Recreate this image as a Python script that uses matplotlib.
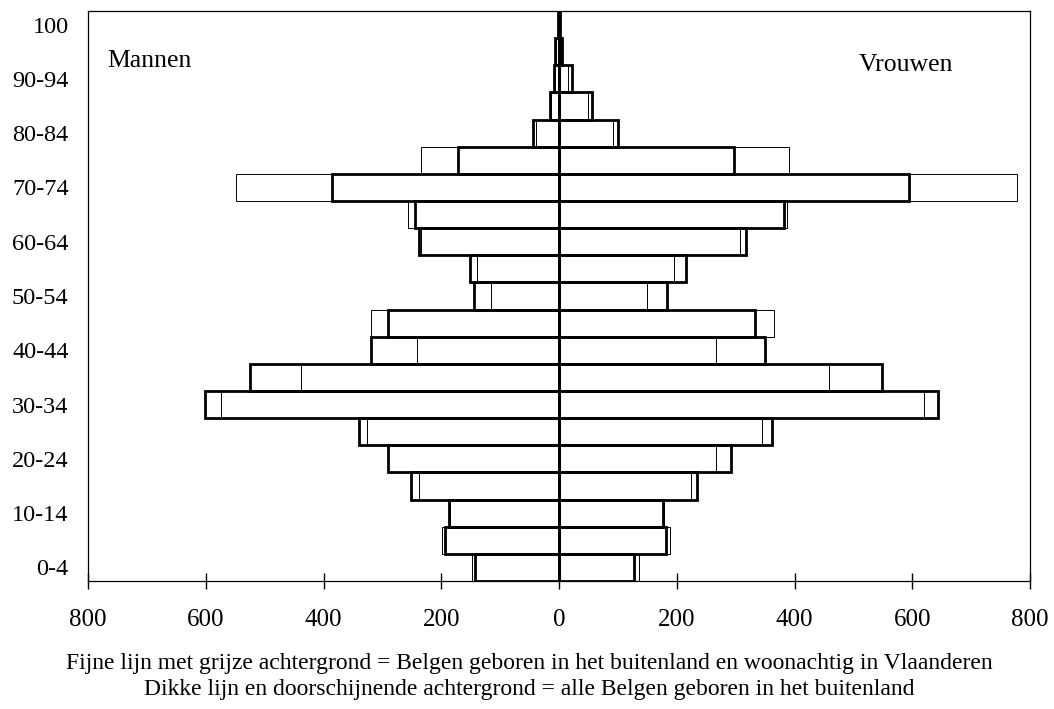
import matplotlib.pyplot as plt
import numpy as np

plt.rcParams['font.family'] = ['Liberation Serif', 'DejaVu Serif']

# age groups, bottom to top
ages = ['0-4', '5-9', '10-14', '15-19', '20-24', '25-29', '30-34', '35-39',
        '40-44', '45-49', '50-54', '55-59', '60-64', '65-69', '70-74',
        '75-79', '80-84', '85-89', '90-94', '95-99', '100']

# thin line: born abroad, living in Flanders
men_thin = [147, 199, 185, 237, 290, 326, 574, 439, 241, 319, 115, 140,
            235, 257, 549, 235, 39, 14, 6, 5, 1]
women_thin = [136, 189, 179, 224, 266, 344, 620, 458, 266, 365, 149, 196,
              308, 388, 778, 390, 91, 50, 15, 4, 2]

# thick line: all Belgians born abroad
men_thick = [142, 193, 186, 251, 291, 339, 601, 525, 320, 290, 144, 151,
             237, 244, 386, 171, 45, 16, 8, 6, 2]
women_thick = [128, 181, 176, 234, 292, 361, 644, 548, 350, 333, 184, 216,
               318, 383, 594, 297, 101, 56, 22, 5, 2]

ytick_labels = ['0-4', '10-14', '20-24', '30-34', '40-44', '50-54',
                '60-64', '70-74', '80-84', '90-94', '100']
xticks = [-800, -600, -400, -200, 0, 200, 400, 600, 800]

y = np.arange(len(ages))

fig = plt.figure(figsize=(10.54, 7.09), dpi=100)
ax = fig.add_axes([88 / 1054, 1 - 581 / 709, 942 / 1054, 570 / 709])

# thin bars (filled, behind)
ax.barh(y, -np.array(men_thin), height=1.0, color='white',
        edgecolor='black', linewidth=0.7, zorder=2)
ax.barh(y, women_thin, height=1.0, color='white',
        edgecolor='black', linewidth=0.7, zorder=2)
# thick bars (transparent, on top)
ax.barh(y, -np.array(men_thick), height=1.0, fill=False,
        edgecolor='black', linewidth=2.0, zorder=3)
ax.barh(y, women_thick, height=1.0, fill=False,
        edgecolor='black', linewidth=2.0, zorder=3)

ax.axvline(0, color='black', linewidth=2.2, zorder=4)

ax.set_xlim(-800, 800)
ax.set_ylim(-0.5, len(ages) - 0.5)

ax.set_xticks(xticks)
ax.set_xticklabels([str(abs(v)) for v in xticks], fontsize=18)
ax.tick_params(axis='x', direction='inout', length=11, width=1, pad=15)

ax.set_yticks(y[::2])
ax.set_yticklabels(ytick_labels, fontsize=17.5)
ax.tick_params(axis='y', length=0, pad=14)

for s in ax.spines.values():
    s.set_linewidth(0.9)

ax.text(0.02, 0.912, 'Mannen', transform=ax.transAxes, fontsize=18.5,
        ha='left', va='center')
ax.text(0.818, 0.905, 'Vrouwen', transform=ax.transAxes, fontsize=18.5,
        ha='left', va='center')

fig.text(0.502, 1 - 664 / 709,
         'Fijne lijn met grijze achtergrond = Belgen geboren in het buitenland en woonachtig in Vlaanderen',
         ha='center', va='center', fontsize=17)
fig.text(0.502, 1 - 689 / 709,
         'Dikke lijn en doorschijnende achtergrond = alle Belgen geboren in het buitenland',
         ha='center', va='center', fontsize=17)

fig.savefig('out.png', dpi=100)
